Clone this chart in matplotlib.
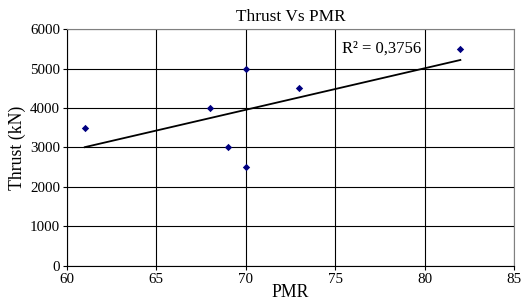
import matplotlib
matplotlib.use("Agg")
import matplotlib.pyplot as plt
import numpy as np

pmr = [61, 68, 69, 70, 70, 73, 82]
thrust = [3500, 4000, 3000, 5000, 2500, 4500, 5500]
x_ticks = [60, 65, 70, 75, 80, 85]
y_ticks = [0, 1000, 2000, 3000, 4000, 5000, 6000]


def main():
    plt.rcParams['font.family'] = ['Liberation Serif', 'DejaVu Serif']
    fig = plt.figure(figsize=(5.31, 3.06), dpi=100)
    ax = fig.add_axes([0.126, 0.131, 0.842, 0.774])

    x = np.array(pmr, dtype=float)
    y = np.array(thrust, dtype=float)
    slope, icpt = np.polyfit(x, y, 1)
    r2 = np.corrcoef(x, y)[0, 1] ** 2
    xs = np.array([x.min(), x.max()])
    ax.plot(xs, slope * xs + icpt, color='black', linewidth=1.3, zorder=3)

    ax.scatter(x, y, marker='D', s=14, color='#000080', zorder=4,
               linewidths=0)

    ax.text(75.4, 5500, "R² = {}".format(("%.4f" % r2).replace('.', ',')),
            fontsize=12, va='center', ha='left')

    ax.set_xlim(60, 85)
    ax.set_ylim(0, 6000)
    ax.set_xticks(x_ticks)
    ax.set_yticks(y_ticks)
    ax.grid(True, color='black', linewidth=0.8)
    ax.set_axisbelow(True)
    ax.tick_params(labelsize=10.8, length=3, width=0.8, color='black',
                   pad=2)
    for side in ('top', 'right'):
        ax.spines[side].set_color('#808080')
    for side in ('left', 'bottom'):
        ax.spines[side].set_color('black')

    ax.set_title("Thrust Vs PMR", fontsize=12.4, pad=6)
    ax.set_xlabel("PMR", fontsize=12.8, labelpad=-1)
    ax.set_ylabel("Thrust (kN)", fontsize=12.8, labelpad=3)

    fig.savefig("out.png", dpi=100)


if __name__ == "__main__":
    main()
